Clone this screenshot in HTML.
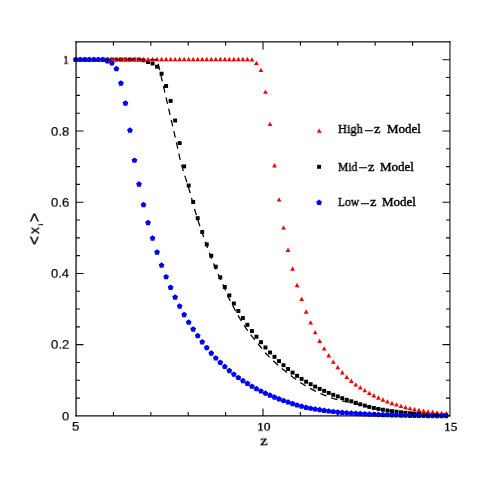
<!DOCTYPE html>
<html><head><meta charset="utf-8"><style>
html,body{margin:0;padding:0;background:#fff}
body{width:491px;height:491px;position:relative;overflow:hidden;font-family:"Liberation Sans",sans-serif;color:#000}
.t{position:absolute;white-space:nowrap;line-height:1;transform-origin:0 0;will-change:transform}
</style></head><body>
<svg width="491" height="491" viewBox="0 0 491 491" style="position:absolute;left:0;top:0">
<g fill="#000">
<rect x="73.78" y="57.63" width="3.94" height="3.94"/>
<rect x="78.30" y="57.63" width="3.94" height="3.94"/>
<rect x="82.81" y="57.63" width="3.94" height="3.94"/>
<rect x="87.33" y="57.63" width="3.94" height="3.94"/>
<rect x="91.85" y="57.63" width="3.94" height="3.94"/>
<rect x="96.37" y="57.63" width="3.94" height="3.94"/>
<rect x="100.88" y="57.63" width="3.94" height="3.94"/>
<rect x="105.40" y="57.63" width="3.94" height="3.94"/>
<rect x="109.92" y="57.63" width="3.94" height="3.94"/>
<rect x="114.43" y="57.63" width="3.94" height="3.94"/>
<rect x="118.95" y="57.63" width="3.94" height="3.94"/>
<rect x="123.47" y="57.63" width="3.94" height="3.94"/>
<rect x="127.98" y="57.63" width="3.94" height="3.94"/>
<rect x="132.50" y="57.63" width="3.94" height="3.94"/>
<rect x="137.02" y="57.63" width="3.94" height="3.94"/>
<rect x="141.53" y="58.33" width="3.94" height="3.94"/>
<rect x="146.05" y="60.03" width="3.94" height="3.94"/>
<rect x="150.57" y="61.53" width="3.94" height="3.94"/>
<rect x="155.09" y="64.73" width="3.94" height="3.94"/>
<rect x="159.60" y="71.73" width="3.94" height="3.94"/>
<rect x="164.12" y="84.03" width="3.94" height="3.94"/>
<rect x="168.64" y="98.93" width="3.94" height="3.94"/>
<rect x="173.15" y="118.53" width="3.94" height="3.94"/>
<rect x="177.67" y="141.13" width="3.94" height="3.94"/>
<rect x="182.19" y="164.43" width="3.94" height="3.94"/>
<rect x="186.71" y="183.53" width="3.94" height="3.94"/>
<rect x="191.22" y="199.93" width="3.94" height="3.94"/>
<rect x="195.74" y="216.23" width="3.94" height="3.94"/>
<rect x="200.26" y="230.03" width="3.94" height="3.94"/>
<rect x="204.77" y="242.43" width="3.94" height="3.94"/>
<rect x="209.29" y="253.73" width="3.94" height="3.94"/>
<rect x="213.81" y="264.73" width="3.94" height="3.94"/>
<rect x="218.32" y="275.33" width="3.94" height="3.94"/>
<rect x="222.84" y="285.03" width="3.94" height="3.94"/>
<rect x="227.36" y="293.43" width="3.94" height="3.94"/>
<rect x="231.88" y="301.53" width="3.94" height="3.94"/>
<rect x="236.39" y="309.03" width="3.94" height="3.94"/>
<rect x="240.91" y="316.03" width="3.94" height="3.94"/>
<rect x="245.43" y="322.83" width="3.94" height="3.94"/>
<rect x="249.94" y="329.03" width="3.94" height="3.94"/>
<rect x="254.46" y="334.73" width="3.94" height="3.94"/>
<rect x="258.98" y="340.23" width="3.94" height="3.94"/>
<rect x="263.49" y="345.53" width="3.94" height="3.94"/>
<rect x="268.01" y="350.53" width="3.94" height="3.94"/>
<rect x="272.53" y="354.83" width="3.94" height="3.94"/>
<rect x="277.04" y="359.13" width="3.94" height="3.94"/>
<rect x="281.56" y="363.23" width="3.94" height="3.94"/>
<rect x="286.08" y="367.03" width="3.94" height="3.94"/>
<rect x="290.60" y="370.63" width="3.94" height="3.94"/>
<rect x="295.11" y="373.83" width="3.94" height="3.94"/>
<rect x="299.63" y="376.93" width="3.94" height="3.94"/>
<rect x="304.15" y="379.73" width="3.94" height="3.94"/>
<rect x="308.66" y="382.23" width="3.94" height="3.94"/>
<rect x="313.18" y="384.63" width="3.94" height="3.94"/>
<rect x="317.70" y="386.93" width="3.94" height="3.94"/>
<rect x="322.22" y="388.93" width="3.94" height="3.94"/>
<rect x="326.73" y="390.93" width="3.94" height="3.94"/>
<rect x="331.25" y="392.83" width="3.94" height="3.94"/>
<rect x="335.77" y="394.43" width="3.94" height="3.94"/>
<rect x="340.28" y="396.23" width="3.94" height="3.94"/>
<rect x="344.80" y="397.83" width="3.94" height="3.94"/>
<rect x="349.32" y="399.33" width="3.94" height="3.94"/>
<rect x="353.83" y="400.83" width="3.94" height="3.94"/>
<rect x="358.35" y="402.33" width="3.94" height="3.94"/>
<rect x="362.87" y="403.63" width="3.94" height="3.94"/>
<rect x="367.38" y="404.93" width="3.94" height="3.94"/>
<rect x="371.90" y="405.99" width="3.94" height="3.94"/>
<rect x="376.42" y="406.93" width="3.94" height="3.94"/>
<rect x="380.94" y="407.78" width="3.94" height="3.94"/>
<rect x="385.45" y="408.53" width="3.94" height="3.94"/>
<rect x="389.97" y="409.16" width="3.94" height="3.94"/>
<rect x="394.49" y="409.73" width="3.94" height="3.94"/>
<rect x="399.00" y="410.31" width="3.94" height="3.94"/>
<rect x="403.52" y="410.83" width="3.94" height="3.94"/>
<rect x="408.04" y="411.26" width="3.94" height="3.94"/>
<rect x="412.56" y="411.63" width="3.94" height="3.94"/>
<rect x="417.07" y="411.96" width="3.94" height="3.94"/>
<rect x="421.59" y="412.23" width="3.94" height="3.94"/>
<rect x="426.11" y="412.45" width="3.94" height="3.94"/>
<rect x="430.62" y="412.63" width="3.94" height="3.94"/>
<rect x="435.14" y="412.79" width="3.94" height="3.94"/>
<rect x="439.66" y="412.92" width="3.94" height="3.94"/>
<rect x="444.17" y="413.03" width="3.94" height="3.94"/>
<rect x="317.13" y="164.83" width="3.94" height="3.94"/>
</g>
<g fill="#ff0000">
<path d="M75.75 56.85L78.15 61.20H73.35Z"/>
<path d="M80.27 56.85L82.67 61.20H77.87Z"/>
<path d="M84.78 56.85L87.18 61.20H82.38Z"/>
<path d="M89.30 56.85L91.70 61.20H86.90Z"/>
<path d="M93.82 56.85L96.22 61.20H91.42Z"/>
<path d="M98.34 56.85L100.74 61.20H95.94Z"/>
<path d="M102.85 56.85L105.25 61.20H100.45Z"/>
<path d="M107.37 56.85L109.77 61.20H104.97Z"/>
<path d="M111.89 56.85L114.29 61.20H109.49Z"/>
<path d="M116.40 56.85L118.80 61.20H114.00Z"/>
<path d="M120.92 56.85L123.32 61.20H118.52Z"/>
<path d="M125.44 56.85L127.84 61.20H123.04Z"/>
<path d="M129.95 56.85L132.35 61.20H127.55Z"/>
<path d="M134.47 56.85L136.87 61.20H132.07Z"/>
<path d="M138.99 56.85L141.39 61.20H136.59Z"/>
<path d="M143.50 56.85L145.91 61.20H141.10Z"/>
<path d="M148.02 56.85L150.42 61.20H145.62Z"/>
<path d="M152.54 56.85L154.94 61.20H150.14Z"/>
<path d="M157.06 56.85L159.46 61.20H154.66Z"/>
<path d="M161.57 56.85L163.97 61.20H159.17Z"/>
<path d="M166.09 56.85L168.49 61.20H163.69Z"/>
<path d="M170.61 56.85L173.01 61.20H168.21Z"/>
<path d="M175.12 56.85L177.52 61.20H172.72Z"/>
<path d="M179.64 56.85L182.04 61.20H177.24Z"/>
<path d="M184.16 56.85L186.56 61.20H181.76Z"/>
<path d="M188.68 56.85L191.08 61.20H186.28Z"/>
<path d="M193.19 56.85L195.59 61.20H190.79Z"/>
<path d="M197.71 56.85L200.11 61.20H195.31Z"/>
<path d="M202.23 56.85L204.63 61.20H199.83Z"/>
<path d="M206.74 56.85L209.14 61.20H204.34Z"/>
<path d="M211.26 56.85L213.66 61.20H208.86Z"/>
<path d="M215.78 56.85L218.18 61.20H213.38Z"/>
<path d="M220.29 56.85L222.69 61.20H217.89Z"/>
<path d="M224.81 56.85L227.21 61.20H222.41Z"/>
<path d="M229.33 56.85L231.73 61.20H226.93Z"/>
<path d="M233.84 56.85L236.25 61.20H231.44Z"/>
<path d="M238.36 56.85L240.76 61.20H235.96Z"/>
<path d="M242.88 56.85L245.28 61.20H240.48Z"/>
<path d="M247.40 56.85L249.80 61.20H245.00Z"/>
<path d="M251.91 57.15L254.31 61.50H249.51Z"/>
<path d="M256.43 60.65L258.83 65.00H254.03Z"/>
<path d="M260.95 67.65L263.35 72.00H258.55Z"/>
<path d="M265.46 89.45L267.86 93.80H263.06Z"/>
<path d="M269.98 121.65L272.38 126.00H267.58Z"/>
<path d="M274.50 163.05L276.90 167.40H272.10Z"/>
<path d="M279.01 197.25L281.41 201.60H276.62Z"/>
<path d="M283.53 225.15L285.93 229.50H281.13Z"/>
<path d="M288.05 247.55L290.45 251.90H285.65Z"/>
<path d="M292.57 266.35L294.97 270.70H290.17Z"/>
<path d="M297.08 282.85L299.48 287.20H294.68Z"/>
<path d="M301.60 296.75L304.00 301.10H299.20Z"/>
<path d="M306.12 309.35L308.52 313.70H303.72Z"/>
<path d="M310.63 320.15L313.03 324.50H308.23Z"/>
<path d="M315.15 329.95L317.55 334.30H312.75Z"/>
<path d="M319.67 338.55L322.07 342.90H317.27Z"/>
<path d="M324.19 346.15L326.59 350.50H321.79Z"/>
<path d="M328.70 353.05L331.10 357.40H326.30Z"/>
<path d="M333.22 359.45L335.62 363.80H330.82Z"/>
<path d="M337.74 364.95L340.14 369.30H335.34Z"/>
<path d="M342.25 370.05L344.65 374.40H339.85Z"/>
<path d="M346.77 374.65L349.17 379.00H344.37Z"/>
<path d="M351.29 378.55L353.69 382.90H348.89Z"/>
<path d="M355.80 382.25L358.20 386.60H353.40Z"/>
<path d="M360.32 385.15L362.72 389.50H357.92Z"/>
<path d="M364.84 387.95L367.24 392.30H362.44Z"/>
<path d="M369.36 390.65L371.75 395.00H366.96Z"/>
<path d="M373.87 393.05L376.27 397.40H371.47Z"/>
<path d="M378.39 395.35L380.79 399.70H375.99Z"/>
<path d="M382.91 397.35L385.31 401.70H380.51Z"/>
<path d="M387.42 399.15L389.82 403.50H385.02Z"/>
<path d="M391.94 400.85L394.34 405.20H389.54Z"/>
<path d="M396.46 402.25L398.86 406.60H394.06Z"/>
<path d="M400.97 403.65L403.37 408.00H398.57Z"/>
<path d="M405.49 404.95L407.89 409.30H403.09Z"/>
<path d="M410.01 405.95L412.41 410.30H407.61Z"/>
<path d="M414.53 406.95L416.93 411.30H412.13Z"/>
<path d="M419.04 407.75L421.44 412.10H416.64Z"/>
<path d="M423.56 408.55L425.96 412.90H421.16Z"/>
<path d="M428.08 409.15L430.48 413.50H425.68Z"/>
<path d="M432.59 409.75L434.99 414.10H430.19Z"/>
<path d="M437.11 410.15L439.51 414.50H434.71Z"/>
<path d="M441.63 410.65L444.03 415.00H439.23Z"/>
<path d="M446.14 411.05L448.54 415.40H443.74Z"/>
<path d="M319.20 128.45L321.60 132.80H316.80Z"/>
</g>
<g fill="#0000ff">
<polygon points="75.75,56.63 78.60,58.71 77.51,62.06 73.99,62.06 72.90,58.71"/>
<polygon points="80.27,56.63 83.12,58.71 82.03,62.06 78.50,62.06 77.41,58.71"/>
<polygon points="84.78,56.63 87.64,58.71 86.55,62.06 83.02,62.06 81.93,58.71"/>
<polygon points="89.30,56.63 92.15,58.71 91.06,62.06 87.54,62.06 86.45,58.71"/>
<polygon points="93.82,56.63 96.67,58.71 95.58,62.06 92.05,62.06 90.96,58.71"/>
<polygon points="98.34,56.63 101.19,58.71 100.10,62.06 96.57,62.06 95.48,58.71"/>
<polygon points="102.85,56.63 105.71,58.71 104.62,62.06 101.09,62.06 100.00,58.71"/>
<polygon points="107.37,58.03 110.22,60.11 109.13,63.46 105.61,63.46 104.52,60.11"/>
<polygon points="111.89,60.13 114.74,62.21 113.65,65.56 110.12,65.56 109.03,62.21"/>
<polygon points="116.40,65.83 119.26,67.91 118.17,71.26 114.64,71.26 113.55,67.91"/>
<polygon points="120.92,80.23 123.77,82.31 122.68,85.66 119.16,85.66 118.07,82.31"/>
<polygon points="125.44,100.23 128.29,102.31 127.20,105.66 123.67,105.66 122.58,102.31"/>
<polygon points="129.95,127.34 132.81,129.41 131.72,132.76 128.19,132.76 127.10,129.41"/>
<polygon points="134.47,157.44 137.32,159.51 136.23,162.86 132.71,162.86 131.62,159.51"/>
<polygon points="138.99,181.23 141.84,183.31 140.75,186.66 137.22,186.66 136.13,183.31"/>
<polygon points="143.50,201.84 146.36,203.91 145.27,207.26 141.74,207.26 140.65,203.91"/>
<polygon points="148.02,219.73 150.88,221.81 149.79,225.16 146.26,225.16 145.17,221.81"/>
<polygon points="152.54,235.23 155.39,237.31 154.30,240.66 150.78,240.66 149.69,237.31"/>
<polygon points="157.06,249.23 159.91,251.31 158.82,254.66 155.29,254.66 154.20,251.31"/>
<polygon points="161.57,262.34 164.43,264.41 163.34,267.76 159.81,267.76 158.72,264.41"/>
<polygon points="166.09,273.94 168.94,276.01 167.85,279.36 164.33,279.36 163.24,276.01"/>
<polygon points="170.61,284.54 173.46,286.61 172.37,289.96 168.84,289.96 167.75,286.61"/>
<polygon points="175.12,294.24 177.98,296.31 176.89,299.66 173.36,299.66 172.27,296.31"/>
<polygon points="179.64,303.24 182.49,305.31 181.40,308.66 177.88,308.66 176.79,305.31"/>
<polygon points="184.16,311.74 187.01,313.81 185.92,317.16 182.39,317.16 181.30,313.81"/>
<polygon points="188.68,319.34 191.53,321.41 190.44,324.76 186.91,324.76 185.82,321.41"/>
<polygon points="193.19,326.24 196.05,328.31 194.96,331.66 191.43,331.66 190.34,328.31"/>
<polygon points="197.71,332.84 200.56,334.91 199.47,338.26 195.95,338.26 194.86,334.91"/>
<polygon points="202.23,339.04 205.08,341.11 203.99,344.46 200.46,344.46 199.37,341.11"/>
<polygon points="206.74,344.74 209.60,346.81 208.51,350.16 204.98,350.16 203.89,346.81"/>
<polygon points="211.26,350.24 214.11,352.31 213.02,355.66 209.50,355.66 208.41,352.31"/>
<polygon points="215.78,355.14 218.63,357.21 217.54,360.56 214.01,360.56 212.92,357.21"/>
<polygon points="220.29,359.54 223.15,361.61 222.06,364.96 218.53,364.96 217.44,361.61"/>
<polygon points="224.81,363.64 227.66,365.71 226.57,369.06 223.05,369.06 221.96,365.71"/>
<polygon points="229.33,367.74 232.18,369.81 231.09,373.16 227.56,373.16 226.47,369.81"/>
<polygon points="233.84,371.44 236.70,373.51 235.61,376.86 232.08,376.86 230.99,373.51"/>
<polygon points="238.36,374.64 241.22,376.71 240.13,380.06 236.60,380.06 235.51,376.71"/>
<polygon points="242.88,377.74 245.73,379.81 244.64,383.16 241.12,383.16 240.03,379.81"/>
<polygon points="247.40,380.54 250.25,382.61 249.16,385.96 245.63,385.96 244.54,382.61"/>
<polygon points="251.91,383.44 254.77,385.51 253.68,388.86 250.15,388.86 249.06,385.51"/>
<polygon points="256.43,385.84 259.28,387.91 258.19,391.26 254.67,391.26 253.58,387.91"/>
<polygon points="260.95,388.14 263.80,390.21 262.71,393.56 259.18,393.56 258.09,390.21"/>
<polygon points="265.46,390.34 268.32,392.41 267.23,395.76 263.70,395.76 262.61,392.41"/>
<polygon points="269.98,392.34 272.83,394.41 271.74,397.76 268.22,397.76 267.13,394.41"/>
<polygon points="274.50,394.24 277.35,396.31 276.26,399.66 272.73,399.66 271.64,396.31"/>
<polygon points="279.01,396.04 281.87,398.11 280.78,401.46 277.25,401.46 276.16,398.11"/>
<polygon points="283.53,397.64 286.39,399.71 285.30,403.06 281.77,403.06 280.68,399.71"/>
<polygon points="288.05,399.14 290.90,401.21 289.81,404.56 286.29,404.56 285.20,401.21"/>
<polygon points="292.57,400.74 295.42,402.81 294.33,406.16 290.80,406.16 289.71,402.81"/>
<polygon points="297.08,402.17 299.94,404.24 298.85,407.59 295.32,407.59 294.23,404.24"/>
<polygon points="301.60,403.44 304.45,405.51 303.36,408.86 299.84,408.86 298.75,405.51"/>
<polygon points="306.12,404.52 308.97,406.59 307.88,409.94 304.35,409.94 303.26,406.59"/>
<polygon points="310.63,405.44 313.49,407.51 312.40,410.86 308.87,410.86 307.78,407.51"/>
<polygon points="315.15,406.17 318.00,408.25 316.91,411.60 313.39,411.60 312.30,408.25"/>
<polygon points="319.67,406.84 322.52,408.91 321.43,412.26 317.90,412.26 316.81,408.91"/>
<polygon points="324.19,407.51 327.04,409.59 325.95,412.94 322.42,412.94 321.33,409.59"/>
<polygon points="328.70,408.14 331.56,410.21 330.47,413.56 326.94,413.56 325.85,410.21"/>
<polygon points="333.22,408.67 336.07,410.74 334.98,414.09 331.46,414.09 330.37,410.74"/>
<polygon points="337.74,409.14 340.59,411.21 339.50,414.56 335.97,414.56 334.88,411.21"/>
<polygon points="342.25,409.57 345.11,411.64 344.02,415.00 340.49,415.00 339.40,411.64"/>
<polygon points="346.77,409.94 349.62,412.01 348.53,415.36 345.01,415.36 343.92,412.01"/>
<polygon points="351.29,410.20 354.14,412.27 353.05,415.62 349.52,415.62 348.43,412.27"/>
<polygon points="355.80,410.44 358.66,412.51 357.57,415.86 354.04,415.86 352.95,412.51"/>
<polygon points="360.32,410.71 363.17,412.78 362.08,416.14 358.56,416.14 357.47,412.78"/>
<polygon points="364.84,410.99 367.69,413.07 366.60,416.42 363.07,416.42 361.98,413.07"/>
<polygon points="369.36,411.24 372.21,413.31 371.12,416.66 367.59,416.66 366.50,413.31"/>
<polygon points="373.87,411.43 376.73,413.50 375.64,416.86 372.11,416.86 371.02,413.50"/>
<polygon points="378.39,411.60 381.24,413.68 380.15,417.03 376.63,417.03 375.54,413.68"/>
<polygon points="382.91,411.76 385.76,413.84 384.67,417.19 381.14,417.19 380.05,413.84"/>
<polygon points="387.42,411.91 390.28,413.98 389.19,417.33 385.66,417.33 384.57,413.98"/>
<polygon points="391.94,412.04 394.79,414.11 393.70,417.46 390.18,417.46 389.09,414.11"/>
<polygon points="396.46,412.15 399.31,414.23 398.22,417.58 394.69,417.58 393.60,414.23"/>
<polygon points="400.97,412.26 403.83,414.34 402.74,417.69 399.21,417.69 398.12,414.34"/>
<polygon points="405.49,412.36 408.34,414.44 407.25,417.79 403.73,417.79 402.64,414.44"/>
<polygon points="410.01,412.46 412.86,414.53 411.77,417.88 408.24,417.88 407.15,414.53"/>
<polygon points="414.53,412.54 417.38,414.61 416.29,417.96 412.76,417.96 411.67,414.61"/>
<polygon points="419.04,412.61 421.90,414.68 420.81,418.03 417.28,418.03 416.19,414.68"/>
<polygon points="423.56,412.68 426.41,414.75 425.32,418.10 421.80,418.10 420.71,414.75"/>
<polygon points="428.08,412.74 430.93,414.81 429.84,418.17 426.31,418.17 425.22,414.81"/>
<polygon points="432.59,412.80 435.45,414.87 434.36,418.23 430.83,418.23 429.74,414.87"/>
<polygon points="437.11,412.85 439.96,414.93 438.87,418.28 435.35,418.28 434.26,414.93"/>
<polygon points="441.63,412.90 444.48,414.97 443.39,418.33 439.86,418.33 438.77,414.97"/>
<polygon points="446.14,412.93 449.00,415.01 447.91,418.36 444.38,418.36 443.29,415.01"/>
<polygon points="319.10,199.59 321.95,201.66 320.86,205.01 317.34,205.01 316.25,201.66"/>
</g>
<g stroke="#000" stroke-width="1.25" fill="none">
<path d="M149.93 59.6H156.63M138.41 59.6H145.11M126.88 59.6H133.58M115.36 59.6H122.06M103.84 59.6H110.54M92.31 59.6H99.01M80.79 59.6H87.49"/>
<path d="M158.26 63.75L158.75 65.89L159.25 68.03L159.74 70.17M160.85 74.95L161.34 77.09L161.83 79.23L162.33 81.37M163.43 86.15L163.92 88.29L164.42 90.43L164.91 92.57M166.01 97.35L166.50 99.49L167.00 101.63L167.49 103.77M168.63 108.67L169.09 110.69L169.59 112.83L170.08 114.96M171.22 119.87L171.71 122.01L172.21 124.15L172.70 126.29M173.80 131.07L174.29 133.21L174.78 135.35L175.27 137.49M176.35 142.28L176.84 144.42L177.32 146.56L177.80 148.70M178.83 153.50L179.29 155.65L179.75 157.80L180.24 159.94M181.51 164.81L182.12 166.92L182.74 169.02L183.37 171.13M184.85 175.81L185.52 177.89L186.20 179.98L186.86 182.08M188.31 186.77L188.94 188.87L189.56 190.98L190.17 193.08M191.46 197.82L192.02 199.94L192.59 202.06L193.17 204.18M194.55 209.02L195.13 211.01L195.76 213.11L196.39 215.21M197.89 220.02L198.56 222.11L199.24 224.20L199.93 226.28M201.52 230.92L202.25 233.00L202.98 235.07L203.71 237.14M205.34 241.76L206.07 243.84L206.79 245.91L207.52 247.98M209.19 252.60L209.96 254.65L210.76 256.70L211.57 258.73M213.49 263.39L214.35 265.41L215.22 267.43L216.10 269.44M218.09 273.93L218.98 275.93L219.88 277.94L220.79 279.93M222.88 284.38L223.80 286.37L224.69 288.37L225.54 290.40M227.43 294.93L228.33 296.93L229.26 298.92L230.23 300.89M232.54 305.36L233.58 307.29L234.65 309.22L235.72 311.13M238.11 315.42L239.19 317.33L240.31 319.22L241.47 321.08M244.14 325.20L245.31 327.06L246.47 328.93L247.66 330.77M250.62 334.67L252.02 336.37L253.41 338.07L254.78 339.78M257.93 343.72L259.23 345.32L260.62 347.02L262.01 348.73M265.23 352.60L266.69 354.24L268.18 355.84L269.72 357.41M273.26 360.82L274.87 362.31L276.50 363.78L278.14 365.23M281.89 368.41L283.58 369.80L285.28 371.19L286.99 372.57M290.86 375.59L292.61 376.91L294.38 378.22L296.15 379.52M300.28 382.41L302.01 383.54L303.86 384.70L305.74 385.84M310.12 388.34L312.06 389.38L314.00 390.39L315.97 391.37M320.41 393.47L322.42 394.35L324.44 395.20L326.48 396.02M331.08 397.73L333.16 398.42L335.26 399.06L337.37 399.65M342.13 400.89L344.26 401.42L346.39 401.94L348.53 402.44M353.44 403.56L355.59 404.03L357.73 404.50L359.87 404.97M364.66 406.05L366.81 406.54L368.95 407.03L371.09 407.51M375.89 408.53L378.05 408.95L380.20 409.34L382.36 409.71M387.21 410.52L389.38 410.86L391.56 411.19L393.73 411.49M398.60 412.07L400.78 412.27L402.96 412.47L405.15 412.66M410.16 413.10L412.34 413.29L414.53 413.47L416.71 413.65M421.60 414.03L423.79 414.18L425.98 414.33L428.18 414.47M433.08 414.74L435.27 414.85L437.47 414.94L439.67 415.02"/>
</g>
<g stroke="#000" stroke-width="1.1" fill="none" stroke-opacity="0.95">
<path d="M76.05 416.5V41.35" stroke-width="1.3"/><path d="M75.45 41.95H450.45" stroke-width="1.2"/><path d="M449.95 41.35V416.4" stroke-width="1.08"/><path d="M75.45 415.9H450.45" stroke-width="1.08"/>
<path d="M113.44 415.9v-3.9M113.44 41.95v3.9"/>
<path d="M150.83 415.9v-3.9M150.83 41.95v3.9"/>
<path d="M188.22 415.9v-3.9M188.22 41.95v3.9"/>
<path d="M225.61 415.9v-3.9M225.61 41.95v3.9"/>
<path d="M263.00 415.9v-7.5M263.00 41.95v7.5"/>
<path d="M300.39 415.9v-3.9M300.39 41.95v3.9"/>
<path d="M337.78 415.9v-3.9M337.78 41.95v3.9"/>
<path d="M375.17 415.9v-3.9M375.17 41.95v3.9"/>
<path d="M412.56 415.9v-3.9M412.56 41.95v3.9"/>
<path d="M76.05 398.09h3.9M449.95 398.09h-3.9"/>
<path d="M76.05 380.29h3.9M449.95 380.29h-3.9"/>
<path d="M76.05 362.48h3.9M449.95 362.48h-3.9"/>
<path d="M76.05 344.67h7.5M449.95 344.67h-7.5"/>
<path d="M76.05 326.86h3.9M449.95 326.86h-3.9"/>
<path d="M76.05 309.06h3.9M449.95 309.06h-3.9"/>
<path d="M76.05 291.25h3.9M449.95 291.25h-3.9"/>
<path d="M76.05 273.44h7.5M449.95 273.44h-7.5"/>
<path d="M76.05 255.64h3.9M449.95 255.64h-3.9"/>
<path d="M76.05 237.83h3.9M449.95 237.83h-3.9"/>
<path d="M76.05 220.02h3.9M449.95 220.02h-3.9"/>
<path d="M76.05 202.21h7.5M449.95 202.21h-7.5"/>
<path d="M76.05 184.41h3.9M449.95 184.41h-3.9"/>
<path d="M76.05 166.60h3.9M449.95 166.60h-3.9"/>
<path d="M76.05 148.79h3.9M449.95 148.79h-3.9"/>
<path d="M76.05 130.99h7.5M449.95 130.99h-7.5"/>
<path d="M76.05 113.18h3.9M449.95 113.18h-3.9"/>
<path d="M76.05 95.37h3.9M449.95 95.37h-3.9"/>
<path d="M76.05 77.56h3.9M449.95 77.56h-3.9"/>
<path d="M76.05 59.76h7.5M449.95 59.76h-7.5"/>
</g>
</svg>
<div class="t" style="font-family:'Liberation Serif',serif;font-size:12.8px;-webkit-text-stroke:0.4px #000;left:338.33px;top:123.37px;transform:scale(0.969,1.000)">High</div>
<div class="t" style="font-family:'Liberation Serif',serif;font-size:12.8px;-webkit-text-stroke:0.4px #000;left:364.11px;top:124.77px;transform:scale(1.270,1.000)">&#8722;</div>
<div class="t" style="font-family:'Liberation Serif',serif;font-size:12.8px;-webkit-text-stroke:0.4px #000;left:374.15px;top:123.37px;transform:scale(1.136,1.000)">z</div>
<div class="t" style="font-family:'Liberation Serif',serif;font-size:12.8px;-webkit-text-stroke:0.4px #000;left:386.95px;top:123.37px;transform:scale(1.014,1.000)">Model</div>
<div class="t" style="font-family:'Liberation Serif',serif;font-size:12.8px;-webkit-text-stroke:0.4px #000;left:338.49px;top:160.57px;transform:scale(0.904,1.000)">Mid</div>
<div class="t" style="font-family:'Liberation Serif',serif;font-size:12.8px;-webkit-text-stroke:0.4px #000;left:358.00px;top:161.97px;transform:scale(1.301,1.000)">&#8722;</div>
<div class="t" style="font-family:'Liberation Serif',serif;font-size:12.8px;-webkit-text-stroke:0.4px #000;left:368.15px;top:160.57px;transform:scale(1.136,1.000)">z</div>
<div class="t" style="font-family:'Liberation Serif',serif;font-size:12.8px;-webkit-text-stroke:0.4px #000;left:380.45px;top:160.57px;transform:scale(1.017,1.000)">Model</div>
<div class="t" style="font-family:'Liberation Serif',serif;font-size:12.8px;-webkit-text-stroke:0.4px #000;left:338.28px;top:196.37px;transform:scale(0.898,1.000)">Low</div>
<div class="t" style="font-family:'Liberation Serif',serif;font-size:12.8px;-webkit-text-stroke:0.4px #000;left:359.91px;top:197.77px;transform:scale(1.285,1.000)">&#8722;</div>
<div class="t" style="font-family:'Liberation Serif',serif;font-size:12.8px;-webkit-text-stroke:0.4px #000;left:369.95px;top:196.37px;transform:scale(1.136,1.000)">z</div>
<div class="t" style="font-family:'Liberation Serif',serif;font-size:12.8px;-webkit-text-stroke:0.4px #000;left:382.35px;top:196.37px;transform:scale(1.017,1.000)">Model</div>
<div class="t" style="font-family:'Liberation Sans',sans-serif;font-size:12.3px;-webkit-text-stroke:0.2px #000;left:51.15px;top:125.59px;transform:scale(1.071,0.967)">0.8</div>
<div class="t" style="font-family:'Liberation Sans',sans-serif;font-size:12.3px;-webkit-text-stroke:0.2px #000;left:51.06px;top:196.85px;transform:scale(1.071,0.967)">0.6</div>
<div class="t" style="font-family:'Liberation Sans',sans-serif;font-size:12.3px;-webkit-text-stroke:0.2px #000;left:51.14px;top:268.07px;transform:scale(1.055,0.967)">0.4</div>
<div class="t" style="font-family:'Liberation Sans',sans-serif;font-size:12.3px;-webkit-text-stroke:0.2px #000;left:51.23px;top:339.32px;transform:scale(1.071,0.967)">0.2</div>
<div class="t" style="font-family:'Liberation Sans',sans-serif;font-size:12.3px;-webkit-text-stroke:0.2px #000;left:62.20px;top:410.79px;transform:scale(1.044,0.933)">0</div>
<div class="t" style="font-family:'Liberation Serif',serif;font-size:13px;-webkit-text-stroke:0.3px #000;left:62.86px;top:53.05px;transform:scale(0.891,0.963)">1</div>
<div class="t" style="font-family:'Liberation Sans',sans-serif;font-size:12.3px;-webkit-text-stroke:0.2px #000;left:72.25px;top:421.11px;transform:scale(1.083,0.958)">5</div>
<div class="t" style="font-family:'Liberation Serif',serif;font-size:13px;-webkit-text-stroke:0.3px #000;left:256.60px;top:419.80px;transform:scale(1.049,0.956)">10</div>
<div class="t" style="font-family:'Liberation Serif',serif;font-size:13px;-webkit-text-stroke:0.3px #000;left:443.94px;top:419.58px;transform:scale(1.024,0.978)">15</div>
<div class="t" style="font-family:'Liberation Serif',serif;font-size:15px;-webkit-text-stroke:0.35px #000;left:259.62px;top:434.02px;transform:scale(1.126,0.928)">z</div>
<div class="t" style="font-family:'Liberation Sans',sans-serif;font-size:15px;-webkit-text-stroke:0.3px #000;left:24.97px;top:245.38px;transform:rotate(-90deg) scale(1.022,1.155)">&lt;</div>
<div class="t" style="font-family:'Liberation Sans',sans-serif;font-size:15px;-webkit-text-stroke:0.3px #000;left:26.81px;top:233.86px;transform:rotate(-90deg) scale(0.916,0.921)">x</div>
<div class="t" style="font-family:'Liberation Sans',sans-serif;font-size:15px;-webkit-text-stroke:0.3px #000;left:25.24px;top:221.62px;transform:rotate(-90deg) scale(1.048,1.121)">&gt;</div>
<div class="t" style="font-family:'Liberation Serif',serif;font-size:10px;-webkit-text-stroke:0.2px #000;left:37.21px;top:225.50px;transform:rotate(-90deg) scale(0.992,0.771)">i</div>
</body></html>
